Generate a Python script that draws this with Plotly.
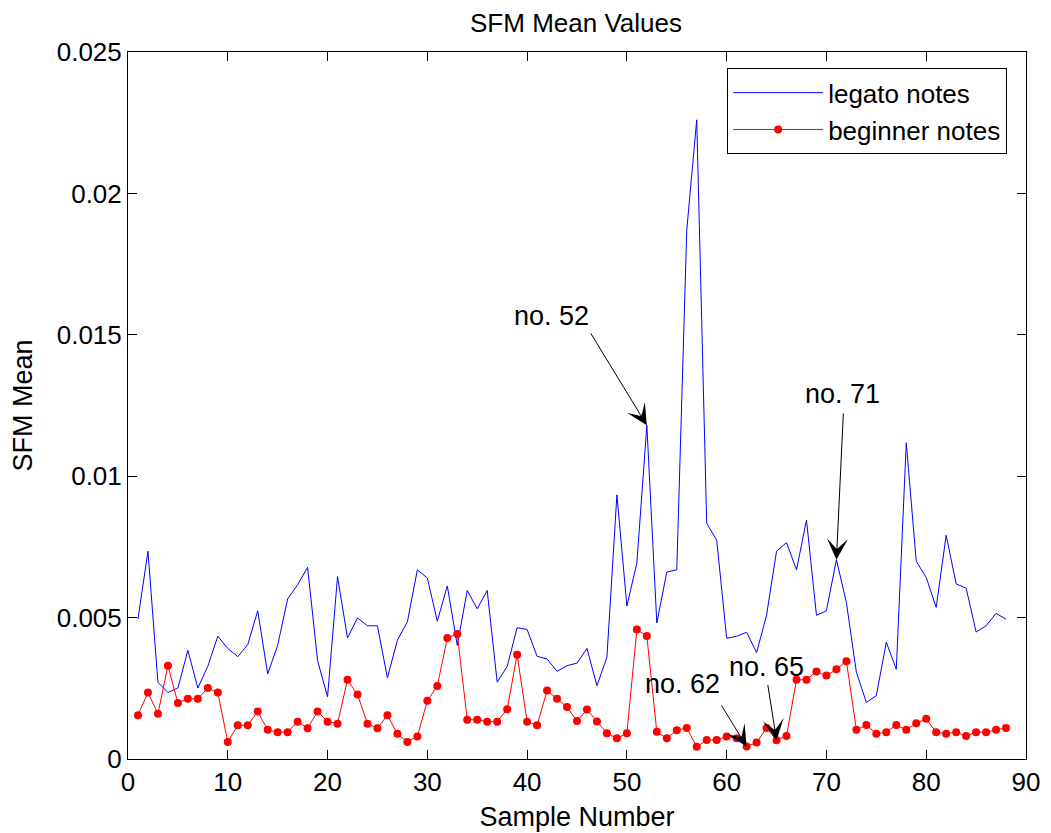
import plotly.graph_objects as go

sample = list(range(1, 89))

legato = [0.00495, 0.00735, 0.00271, 0.00235, 0.00251, 0.00384, 0.00251, 0.00328, 0.00434, 0.00391,
          0.00362, 0.00404, 0.00524, 0.00301, 0.00402, 0.00566, 0.00616, 0.00678, 0.00348, 0.00220,
          0.00645, 0.00428, 0.00499, 0.00471, 0.00471, 0.00287, 0.00420, 0.00485, 0.00669, 0.00640,
          0.00487, 0.00612, 0.00402, 0.00596, 0.00531, 0.00596, 0.00272, 0.00327, 0.00464, 0.00458,
          0.00363, 0.00354, 0.00310, 0.00330, 0.00339, 0.00391, 0.00259, 0.00360, 0.00934, 0.00541,
          0.00693, 0.01180, 0.00481, 0.00661, 0.00669, 0.01870, 0.02260, 0.00833, 0.00774, 0.00427,
          0.00434, 0.00448, 0.00376, 0.00509, 0.00735, 0.00765, 0.00669, 0.00845, 0.00508, 0.00524,
          0.00705, 0.00553, 0.00307, 0.00200, 0.00224, 0.00413, 0.00317, 0.01118, 0.00699, 0.00642,
          0.00536, 0.00791, 0.00619, 0.00604, 0.00449, 0.00471, 0.00515, 0.00494]

beginner = [0.00155, 0.00235, 0.00160, 0.00330, 0.00198, 0.00213, 0.00213, 0.00251, 0.00235, 0.00060,
            0.00119, 0.00119, 0.00168, 0.00103, 0.00095, 0.00095, 0.00132, 0.00109, 0.00168, 0.00132,
            0.00125, 0.00280, 0.00228, 0.00125, 0.00109, 0.00155, 0.00089, 0.00060, 0.00080, 0.00206,
            0.00258, 0.00428, 0.00442, 0.00139, 0.00139, 0.00132, 0.00132, 0.00176, 0.00369, 0.00132,
            0.00119, 0.00242, 0.00213, 0.00184, 0.00134, 0.00175, 0.00133, 0.00091, 0.00073, 0.00091,
            0.00458, 0.00435, 0.00096, 0.00073, 0.00102, 0.00110, 0.00043, 0.00067, 0.00067, 0.00080,
            0.00073, 0.00044, 0.00058, 0.00110, 0.00066, 0.00081, 0.00280, 0.00280, 0.00309, 0.00295,
            0.00317, 0.00346, 0.00103, 0.00120, 0.00089, 0.00095, 0.00120, 0.00103, 0.00126, 0.00142,
            0.00095, 0.00089, 0.00095, 0.00081, 0.00095, 0.00095, 0.00103, 0.00110]

x_ticks = [0, 10, 20, 30, 40, 50, 60, 70, 80, 90]
y_ticks = [0, 0.005, 0.01, 0.015, 0.02, 0.025]
y_tick_text = ["0", "0.005", "0.01", "0.015", "0.02", "0.025"]

# annotation labels: text, target sample, target series, tail (x, y), text centre (x, y)
notes = [
    ("no. 52", 52, "legato", (46.3, 0.0151), (42.4, 0.01565)),
    ("no. 71", 71, "legato", (71.7, 0.01227), (71.6, 0.0129)),
    ("no. 62", 62, "beginner", (59.4, 0.00194), (55.6, 0.00265)),
    ("no. 65", 65, "beginner", (64.1, 0.00267), (64.0, 0.00327)),
]

FONT = "Liberation Sans, Arial, Helvetica, sans-serif"

fig = go.Figure()
fig.add_trace(go.Scatter(x=sample, y=legato, mode="lines", name="legato notes",
                         line=dict(color="#0000FF", width=1)))
fig.add_trace(go.Scatter(x=sample, y=beginner, mode="lines+markers", name="beginner notes",
                         line=dict(color="#FF0000", width=1),
                         marker=dict(color="#FF0000", size=8, symbol="circle")))

series = {"legato": legato, "beginner": beginner}
for text, n, s, tail, centre in notes:
    yv = series[s][n - 1]
    fig.add_annotation(x=n, y=yv, ax=tail[0], ay=tail[1], xref="x", yref="y",
                       axref="x", ayref="y", text="", showarrow=True,
                       arrowhead=3, arrowsize=3.5, arrowwidth=1, arrowcolor="black",
                       standoff=0, startstandoff=0)
    fig.add_annotation(x=centre[0], y=centre[1], xref="x", yref="y", text=text,
                       showarrow=False, font=dict(size=27, color="black", family=FONT))

axis_common = dict(showline=True, linecolor="black", linewidth=1, mirror="ticks",
                   ticks="inside", ticklen=9, tickcolor="black", tickwidth=1,
                   showgrid=False, zeroline=False,
                   tickfont=dict(size=26, color="black", family=FONT))

fig.update_xaxes(range=[0, 90], tickvals=x_ticks, ticktext=[str(v) for v in x_ticks],
                 title=dict(text="Sample Number", font=dict(size=27, color="black", family=FONT),
                            standoff=10),
                 **axis_common)
fig.update_yaxes(range=[0, 0.025], tickvals=y_ticks, ticktext=y_tick_text,
                 title=dict(text="SFM Mean", font=dict(size=27, color="black", family=FONT),
                            standoff=17),
                 **axis_common)

# the page body adds an 8 px offset, so margins are shifted to compensate
fig.update_layout(
    width=1051, height=833,
    margin=dict(l=120, r=33, t=44, b=82, autoexpand=False),
    paper_bgcolor="white", plot_bgcolor="white",
    title=dict(text="SFM Mean Values", x=568 / 1051, xanchor="center",
               y=1 - 15 / 833, yanchor="middle",
               font=dict(size=26, color="black", family=FONT)),
    legend=dict(x=0.979, y=0.977, xanchor="right", yanchor="top",
                bgcolor="white", bordercolor="black", borderwidth=1,
                font=dict(size=26, color="black", family=FONT),
                itemwidth=90),
    showlegend=True,
)

fig.write_html("out.html")
